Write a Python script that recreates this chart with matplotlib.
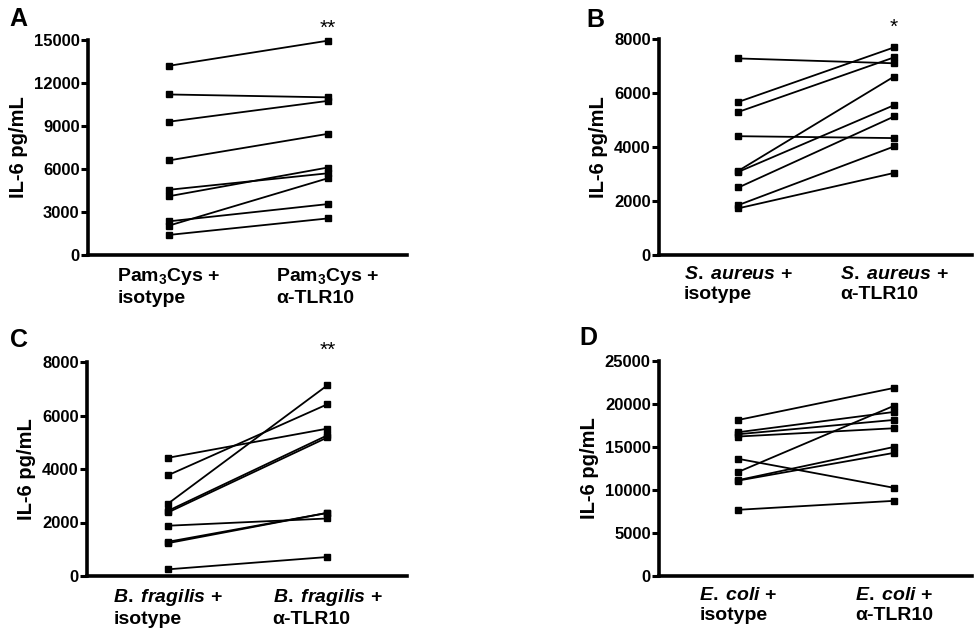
import matplotlib
matplotlib.use("Agg")
import matplotlib.pyplot as plt

plt.rcParams['font.family'] = ['Liberation Sans', 'DejaVu Sans']
plt.rcParams['font.weight'] = 'bold'
plt.rcParams['mathtext.fontset'] = 'custom'
plt.rcParams['mathtext.rm'] = 'Liberation Sans:bold'
plt.rcParams['mathtext.it'] = 'Liberation Sans:bold:italic'
plt.rcParams['mathtext.bf'] = 'Liberation Sans:bold'
plt.rcParams['mathtext.default'] = 'regular'

# IL-6 values per donor (isotype, anti-TLR10)
pam_iso = [13200, 11200, 9300, 6600, 4550, 4100, 2350, 2050, 1400]
pam_tlr = [14950, 11000, 10750, 8450, 5700, 6100, 3550, 5350, 2550]

sa_iso = [7280, 5670, 5300, 4400, 3120, 3080, 2500, 1850, 1730]
sa_tlr = [7100, 7690, 7320, 4330, 6610, 5550, 5130, 4020, 3040]

bf_iso = [4420, 3770, 2710, 2440, 2380, 1880, 1280, 1230, 250]
bf_tlr = [5510, 6420, 7130, 5260, 5180, 2150, 2360, 2360, 710]

ec_iso = [18150, 16720, 16490, 16220, 13620, 12110, 11150, 11100, 7700]
ec_tlr = [21870, 19080, 18150, 17180, 10250, 19800, 15010, 14320, 8740]

labels_pam = ["Pam$_3$Cys +\nisotype", "Pam$_3$Cys +\nα-TLR10"]
labels_sa = [r"$\mathit{S.\;aureus}$ +" + "\nisotype", r"$\mathit{S.\;aureus}$ +" + "\nα-TLR10"]
labels_bf = [r"$\mathit{B.\;fragilis}$ +" + "\nisotype", r"$\mathit{B.\;fragilis}$ +" + "\nα-TLR10"]
labels_ec = [r"$\mathit{E.\;coli}$ +" + "\nisotype", r"$\mathit{E.\;coli}$ +" + "\nα-TLR10"]

yticks_pam = [0, 3000, 6000, 9000, 12000, 15000]
yticks_sa = [0, 2000, 4000, 6000, 8000]
yticks_bf = [0, 2000, 4000, 6000, 8000]
yticks_ec = [0, 5000, 10000, 15000, 20000, 25000]

W, H = 974, 634
fig = plt.figure(figsize=(W / 100, H / 100), dpi=100)


def panel(rect, iso, tlr, xlabels, yticks, letter, letter_pos, stars):
    ax = fig.add_axes([rect[0] / W, 1 - rect[3] / H, (rect[2] - rect[0]) / W, (rect[3] - rect[1]) / H])
    for a, b in zip(iso, tlr):
        ax.plot([0, 1], [a, b], color='black', lw=1.3, marker='s', ms=4,
                solid_capstyle='butt', clip_on=False)
    ax.set_xlim(-0.51, 1.5)
    ax.set_ylim(0, yticks[-1])
    ax.set_yticks(yticks)
    ax.set_yticklabels([str(t) for t in yticks], fontsize=12, fontweight='bold')
    ax.set_xticks([0, 1])
    ax.set_xticklabels(xlabels, fontsize=14, fontweight='bold', multialignment='left')
    ax.tick_params(axis='x', length=0, pad=8)
    ax.tick_params(axis='y', length=5, width=2.2, pad=1)
    ax.spines['top'].set_visible(False)
    ax.spines['right'].set_visible(False)
    ax.spines['left'].set_linewidth(2.6)
    ax.spines['bottom'].set_linewidth(2.6)
    ax.set_ylabel("IL-6 pg/mL", fontsize=14.5, fontweight='bold', labelpad=4)
    fig.text(letter_pos[0] / W, 1 - letter_pos[1] / H, letter, fontsize=18, fontweight='bold',
             ha='left', va='top')
    if stars:
        ax.text(1, 1.01, stars, transform=ax.get_xaxis_transform(), fontsize=15,
                fontweight='normal', ha='center', va='bottom')
    return ax


panel((88, 40, 407, 255), pam_iso, pam_tlr, labels_pam, yticks_pam, "A", (9, 7), "**")
panel((659, 39, 972, 255), sa_iso, sa_tlr, labels_sa, yticks_sa, "B", (586, 8), "*")
panel((87, 362, 407, 576), bf_iso, bf_tlr, labels_bf, yticks_bf, "C", (10, 328), "**")
panel((659, 361, 972, 576), ec_iso, ec_tlr, labels_ec, yticks_ec, "D", (579, 326), "")

fig.savefig("out.png", dpi=100)
